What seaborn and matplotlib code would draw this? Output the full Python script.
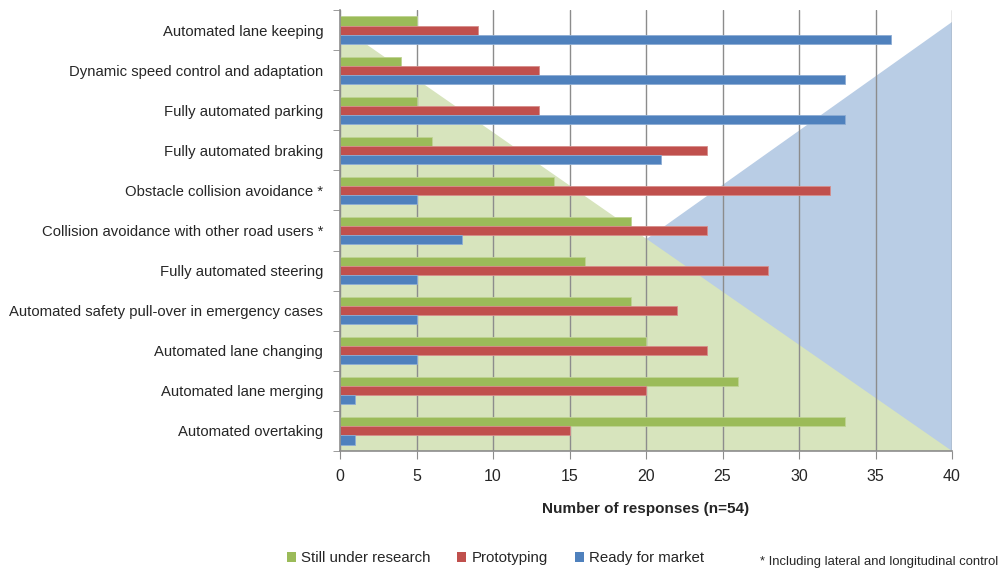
import numpy as np
import pandas as pd
import matplotlib
matplotlib.use("Agg")
import matplotlib.pyplot as plt
from matplotlib.patches import Polygon, Patch
from matplotlib.ticker import FixedLocator
import matplotlib.colors as mcolors
import seaborn as sns

# --- data -------------------------------------------------------------
functions = [
    "Automated lane keeping",
    "Dynamic speed control and adaptation",
    "Fully automated parking",
    "Fully automated braking",
    "Obstacle collision avoidance *",
    "Collision avoidance with other road users *",
    "Fully automated steering",
    "Automated safety pull-over in emergency cases",
    "Automated lane changing",
    "Automated lane merging",
    "Automated overtaking",
]
still_under_research = [5, 4, 5, 6, 14, 19, 16, 19, 20, 26, 33]
prototyping = [9, 13, 13, 24, 32, 24, 28, 22, 24, 20, 15]
ready_for_market = [36, 33, 33, 21, 5, 8, 5, 5, 5, 1, 1]
stages = ["Still under research", "Prototyping", "Ready for market"]
x_ticks = [0, 5, 10, 15, 20, 25, 30, 35, 40]

palette = {"Still under research": "#9BBB59",
           "Prototyping": "#C0504D",
           "Ready for market": "#4F81BD"}

df = pd.DataFrame({
    "function": functions * 3,
    "stage": np.repeat(stages, len(functions)),
    "responses": still_under_research + prototyping + ready_for_market,
})

# --- style ------------------------------------------------------------
sns.set_style("white")
plt.rcParams["font.family"] = ["Liberation Sans", "DejaVu Sans"]

fig = plt.figure(figsize=(10.01, 5.75), dpi=100)
ax = fig.add_axes([0.3397, 0.2157, 0.6114, 0.7669])

sns.barplot(data=df, y="function", x="responses", hue="stage",
            hue_order=stages, order=functions, palette=palette,
            orient="h", width=0.68, saturation=1, ax=ax, legend=False,
            zorder=3)

# thin light outline on every bar
for p in ax.patches:
    fc = np.array(mcolors.to_rgb(p.get_facecolor()))
    p.set_edgecolor(tuple(fc + (1 - fc) * 0.35))
    p.set_linewidth(0.6)

# background wedges: research fades out, market readiness grows
n = len(functions)
bottom = n - 0.5
blue_wedge = Polygon([(40, -0.2), (40, bottom), (0.5, bottom)], closed=True,
                     facecolor="#B9CDE5", edgecolor="none", zorder=0)
green_wedge = Polygon([(0, -0.1), (0, bottom), (40, bottom)], closed=True,
                      facecolor="#D7E4BD", edgecolor="none", zorder=1)
ax.add_patch(blue_wedge)
ax.add_patch(green_wedge)

ax.set_xlim(0, 40)
ax.set_ylim(bottom, -0.5)
ax.set_xticks(x_ticks)
ax.xaxis.grid(True, color="#8C8C8C", linewidth=1.0)
ax.set_axisbelow(False)
for gl in ax.get_xgridlines():
    gl.set_zorder(2)

ax.tick_params(axis="x", which="major", direction="out", length=6,
               color="#8C8C8C", labelsize=11.5, pad=7, bottom=True)
ax.tick_params(axis="y", which="major", length=0, labelsize=10.7, pad=12)
ax.yaxis.set_minor_locator(FixedLocator(np.arange(-0.5, n + 0.5, 1.0)))
ax.tick_params(axis="y", which="minor", direction="out", length=5,
               color="#8C8C8C", left=True)

for side in ("top", "right"):
    ax.spines[side].set_visible(False)
for side in ("left", "bottom"):
    ax.spines[side].set_color("#8C8C8C")
    ax.spines[side].set_linewidth(1.2)
    ax.spines[side].set_zorder(4)

ax.set_ylabel("")
ax.set_xlabel("Number of responses (n=54)", fontsize=11,
              fontweight="bold", labelpad=13)

handles = [Patch(facecolor=palette[s], edgecolor="none", label=s) for s in stages]
fig.legend(handles=handles, loc="center", bbox_to_anchor=(0.495, 0.029),
           ncol=3, frameon=False, fontsize=10.8, handlelength=0.6,
           handleheight=0.6, handletextpad=0.35, columnspacing=1.8)

fig.text(0.997, 0.022, "* Including lateral and longitudinal control",
         ha="right", va="center", fontsize=9.4)

fig.savefig("out.png", dpi=100)
